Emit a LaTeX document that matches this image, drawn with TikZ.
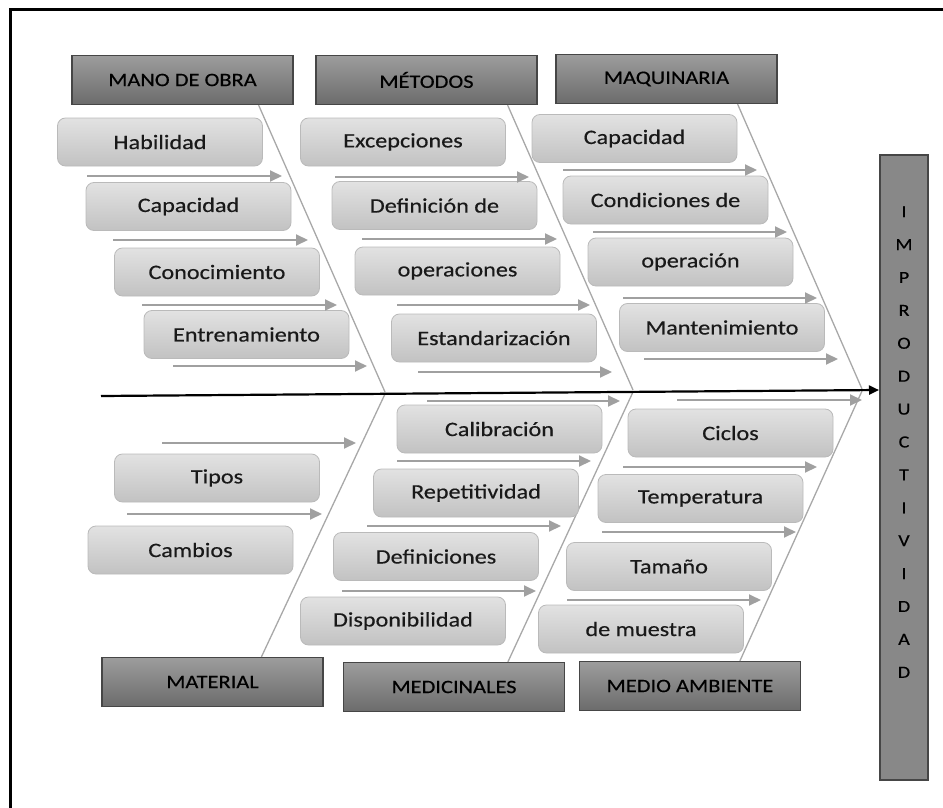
\documentclass[tikz,border=0pt]{standalone}
\usepackage{fontspec}
\setmainfont{Carlito}[FakeStretch=1.18,FakeBold=0.4]
\usetikzlibrary{arrows.meta}
\definecolor{catTop}{RGB}{156,156,156}
\definecolor{catBot}{RGB}{108,108,108}
\definecolor{catLine}{RGB}{70,70,70}
\definecolor{boxTop}{RGB}{226,226,226}
\definecolor{boxBot}{RGB}{194,194,194}
\definecolor{boxLine}{RGB}{186,186,186}
\definecolor{tickGray}{RGB}{160,160,160}
\definecolor{boneGray}{RGB}{168,168,168}
\definecolor{impGray}{RGB}{136,136,136}
\begin{document}
\begin{tikzpicture}[x=1pt, y=-1pt,
  cat/.style={draw=catLine, line width=1.2pt, top color=catTop, bottom color=catBot, minimum width=221, minimum height=49, inner sep=0pt, text=black, font=\fontsize{19}{22}\selectfont},
  cause/.style={draw=boxLine, line width=0.8pt, rounded corners=8, top color=boxTop, bottom color=boxBot, minimum width=205, minimum height=48, inner sep=0pt, text=black!90, font=\fontsize{20.5}{24}\selectfont},
  impbox/.style={draw=catLine, line width=1.2pt, fill=impGray, minimum width=48, minimum height=625, inner sep=0pt},
  bone/.style={draw=boneGray, line width=1.3pt},
  tick/.style={draw=tickGray, line width=2pt, -{Triangle[length=12pt,width=11pt]}},
  spine/.style={draw=black, line width=2.2pt, -{Triangle[length=10pt,width=9pt]}}]
\useasboundingbox (0,0) rectangle (943,808);
\draw[line width=3pt] (10.5,808) -- (10.5,9.5) -- (943,9.5);

% categories
\node[cat] (mo) at (182.5,80) {MANO DE OBRA};
\node[cat] (me) at (426.5,80) {MÉTODOS};
\node[cat] (mq) at (666.5,79) {MAQUINARIA};
\node[cat] (mt) at (212.5,682) {MATERIAL};
\node[cat] (md) at (454,687) {MEDICINALES};
\node[cat] (ma) at (690,686) {MEDIO AMBIENTE};

% effect
\node[impbox] (imp) at (904,467.5) {};
\node[font=\fontsize{17}{32.9}\selectfont, align=center, inner sep=0pt] (letters) at (904,442) {I\\M\\P\\R\\O\\D\\U\\C\\T\\I\\V\\I\\D\\A\\D};

% spine
\coordinate (tail) at (101,396);
\coordinate (head) at (879,390);
\coordinate (k1) at (385,392);
\coordinate (k2) at (633,390);
\coordinate (k3) at (862,389);
\coordinate (k4) at (385,394);
\coordinate (k5) at (633,392);
\coordinate (k6) at (862,391);
\path[bone] ([xshift=-35]mo.south east) -- (k1);
\path[bone] ([xshift=-30]me.south east) -- (k2);
\path[bone] ([xshift=-40]mq.south east) -- (k3);
\path[bone] ([xshift=160]mt.north west) -- (k4);
\path[bone] ([xshift=165]md.north west) -- (k5);
\path[bone] ([xshift=161]ma.north west) -- (k6);
\draw[spine] (tail) -- (head);

% mano de obra
\node[cause] (hab) at (160,142) {Habilidad};
\node[cause] (cap1) at (188.5,206.5) {Capacidad};
\node[cause] (con) at (217,272) {Conocimiento};
\node[cause] (ent) at (246.5,334.5) {Entrenamiento};
% metodos
\node[cause] (exc) at (403,142) {Excepciones};
\node[cause] (def) at (434.5,205.5) {Definición de};
\node[cause] (ope) at (457.5,271) {operaciones};
\node[cause] (est) at (494,338) {Estandarización};
% maquinaria
\node[cause] (cap2) at (634.5,138.5) {Capacidad};
\node[cause] (cond) at (665.5,200) {Condiciones de};
\node[cause] (oper) at (690.5,262) {operación};
\node[cause] (man) at (722,327.5) {Mantenimiento};
% material
\node[cause] (tip) at (217,478) {Tipos};
\node[cause] (cam) at (190.5,550) {Cambios};
% medicinales
\node[cause] (cal) at (499.5,429) {Calibración};
\node[cause] (rep) at (476,493) {Repetitividad};
\node[cause] (defs) at (436,556.5) {Definiciones};
\node[cause] (dis) at (403,621) {Disponibilidad};
% medio ambiente
\node[cause] (cic) at (730.5,433) {Ciclos};
\node[cause] (tem) at (700.5,498.5) {Temperatura};
\node[cause] (tam) at (669,566.5) {Tamaño};
\node[cause] (mue) at (641,629) {de muestra};

% small arrows
\coordinate (a1) at (87,176);  \coordinate (b1) at (282,176);  \draw[tick] (a1) -- (b1);
\coordinate (a2) at (113,240); \coordinate (b2) at (308,240);  \draw[tick] (a2) -- (b2);
\coordinate (a3) at (142,305); \coordinate (b3) at (337,305);  \draw[tick] (a3) -- (b3);
\coordinate (a4) at (173,366); \coordinate (b4) at (367,366);  \draw[tick] (a4) -- (b4);
\coordinate (a5) at (335,177); \coordinate (b5) at (529,177);  \draw[tick] (a5) -- (b5);
\coordinate (a6) at (362,239); \coordinate (b6) at (557,239);  \draw[tick] (a6) -- (b6);
\coordinate (a7) at (397,305); \coordinate (b7) at (590,305);  \draw[tick] (a7) -- (b7);
\coordinate (a8) at (418,372); \coordinate (b8) at (612,372);  \draw[tick] (a8) -- (b8);
\coordinate (a9) at (563,170); \coordinate (b9) at (757,170);  \draw[tick] (a9) -- (b9);
\coordinate (a10) at (593,232); \coordinate (b10) at (787,232); \draw[tick] (a10) -- (b10);
\coordinate (a11) at (623,298); \coordinate (b11) at (817,298); \draw[tick] (a11) -- (b11);
\coordinate (a12) at (644,359); \coordinate (b12) at (838,359); \draw[tick] (a12) -- (b12);
\coordinate (a13) at (162,443); \coordinate (b13) at (356,443); \draw[tick] (a13) -- (b13);
\coordinate (a14) at (127,514); \coordinate (b14) at (322,514); \draw[tick] (a14) -- (b14);
\coordinate (a15) at (427,401); \coordinate (b15) at (620,401); \draw[tick] (a15) -- (b15);
\coordinate (a16) at (397,461); \coordinate (b16) at (591,461); \draw[tick] (a16) -- (b16);
\coordinate (a17) at (367,526); \coordinate (b17) at (561,526); \draw[tick] (a17) -- (b17);
\coordinate (a18) at (342,591); \coordinate (b18) at (536,591); \draw[tick] (a18) -- (b18);
\coordinate (a19) at (677,400); \coordinate (b19) at (862,400); \draw[tick] (a19) -- (b19);
\coordinate (a20) at (623,467); \coordinate (b20) at (817,467); \draw[tick] (a20) -- (b20);
\coordinate (a21) at (602,532); \coordinate (b21) at (796,532); \draw[tick] (a21) -- (b21);
\coordinate (a22) at (567,600); \coordinate (b22) at (761,600); \draw[tick] (a22) -- (b22);
\end{tikzpicture}
\end{document}
